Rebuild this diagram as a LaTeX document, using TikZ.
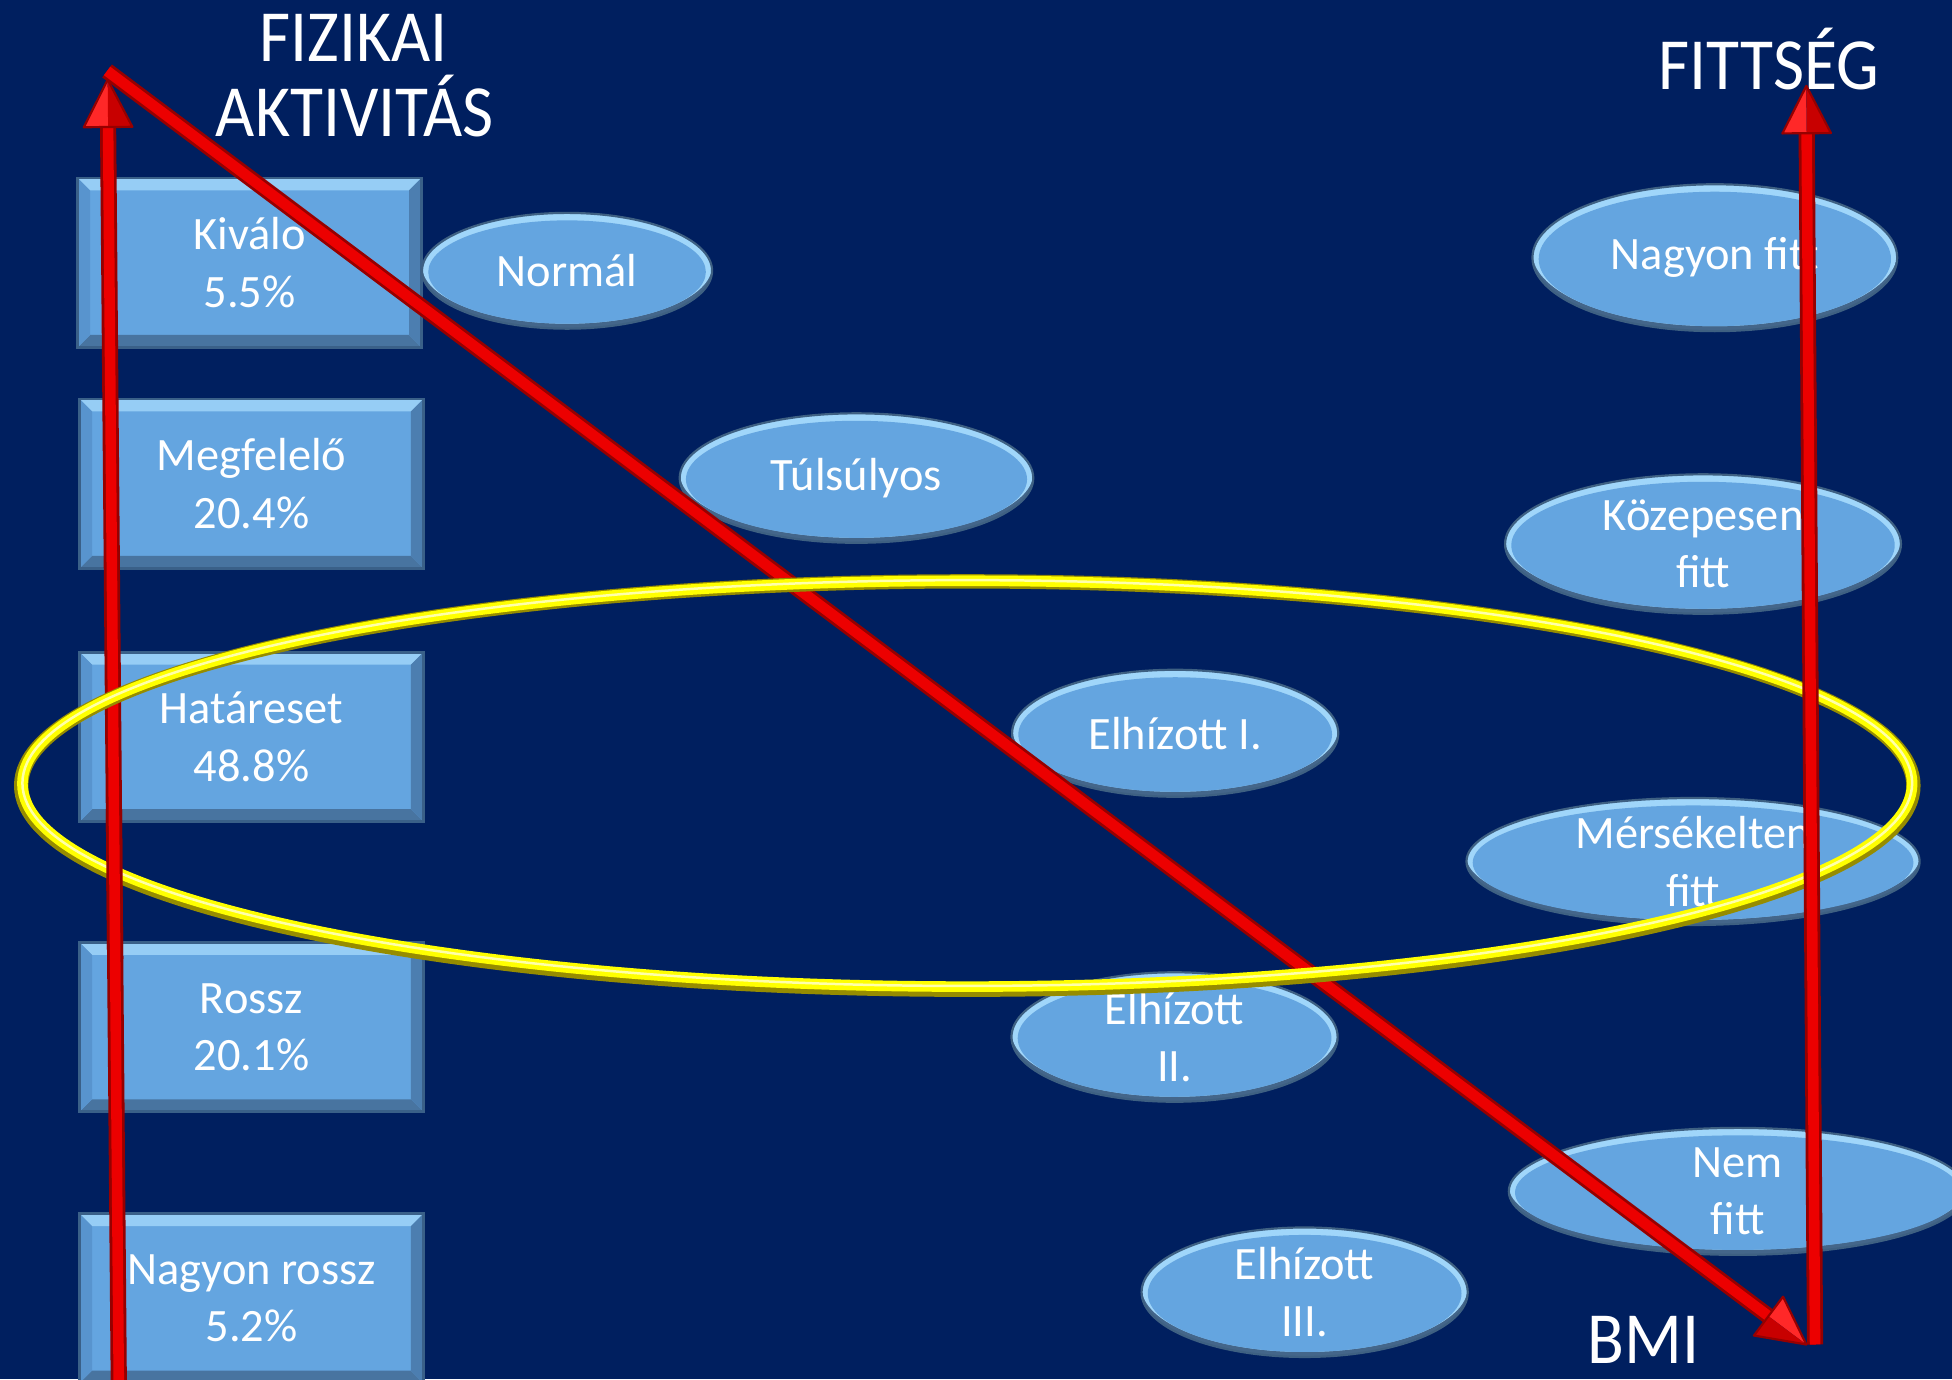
\documentclass[tikz,border=0pt]{standalone}
\usepackage{fontspec}
\setmainfont{Carlito}
\newfontfamily\ttlfont[FakeStretch=0.92]{Carlito}
\usetikzlibrary{calc}
\definecolor{bg}{RGB}{0,31,95}
\definecolor{boxmain}{RGB}{100,165,224}
\definecolor{boxtop}{RGB}{150,205,245}
\definecolor{boxbot}{RGB}{72,116,160}
\definecolor{boxleft}{RGB}{88,148,206}
\definecolor{boxright}{RGB}{76,126,176}
\definecolor{boxedge}{RGB}{58,96,136}
\definecolor{bubmain}{RGB}{100,165,224}
\definecolor{bublight}{RGB}{160,214,250}
\definecolor{bubdark}{RGB}{68,102,138}
\definecolor{bubedge}{RGB}{62,96,130}
\definecolor{ylw}{RGB}{255,255,0}
\definecolor{ylwdark}{RGB}{150,140,0}
\definecolor{ylwlight}{RGB}{255,255,170}
\definecolor{tubered}{RGB}{236,0,0}
\definecolor{tubedark}{RGB}{150,0,0}
\definecolor{headlight}{RGB}{255,40,40}
\definecolor{headdark}{RGB}{200,0,0}

\tikzset{
  boxtext/.style={text=white, align=center, inner sep=0pt, font=\fontsize{10.6}{13.1}\selectfont},
  titletext/.style={text=white, inner sep=0pt, font=\ttlfont\fontsize{16.8}{18}\selectfont},
  bevelbox/.style={boxtext, rectangle, minimum width=2.76cm, minimum height=1.36cm,
    fill=boxmain, draw=boxedge, line width=0.6pt,
    path picture={
      \fill[boxtop] (path picture bounding box.north west) -- (path picture bounding box.north east)
        -- ++(-0.1cm,-0.1cm) -- ($(path picture bounding box.north west)+(0.1cm,-0.1cm)$) -- cycle;
      \fill[boxbot] (path picture bounding box.south west) -- (path picture bounding box.south east)
        -- ++(-0.1cm,0.1cm) -- ($(path picture bounding box.south west)+(0.1cm,0.1cm)$) -- cycle;
      \fill[boxleft] (path picture bounding box.south west) -- (path picture bounding box.north west)
        -- ++(0.1cm,-0.1cm) -- ($(path picture bounding box.south west)+(0.1cm,0.1cm)$) -- cycle;
      \fill[boxright] (path picture bounding box.south east) -- (path picture bounding box.north east)
        -- ++(-0.1cm,-0.1cm) -- ($(path picture bounding box.south east)+(-0.1cm,0.1cm)$) -- cycle;
    }},
  tubeouter/.style={draw=tubedark, line width=0.13cm},
  tubeinner/.style={draw=tubered, line width=0.085cm},
  ringouter/.style={draw=ylwdark, line width=0.115cm},
  ringinner/.style={draw=ylw, line width=0.085cm},
  ringhigh/.style={draw=ylwlight, line width=0.02cm},
}

\newcommand\bubble[6]{%
  \begin{scope}
    \clip (#2,#3) ellipse [x radius=#4, y radius=#5];
    \fill[bubdark] (#2-#4,#3-#5) rectangle (#2+#4,#3+#5);
    \fill[bublight] (#2,#3-4) ellipse [x radius=#4, y radius=#5];
    \fill[bubmain] (#2,#3+1) ellipse [x radius=#4-5, y radius=#5-5];
  \end{scope}
  \draw[bubedge, line width=0.5pt] (#2,#3) ellipse [x radius=#4, y radius=#5];
  \node[boxtext] (#1) at (#2,#3) {#6};
}

\newcommand\redshaft[2]{%
  \coordinate (hb) at ($(#2)!0.36cm!(#1)$);
  \draw[tubeouter] (#1) -- (hb);
  \draw[tubeinner] (#1) -- (hb);
}
\newcommand\redhead[2]{%
  \coordinate (hb) at ($(#2)!0.38cm!(#1)$);
  \coordinate (hl) at ($(hb)!0.195cm!90:(#2)$);
  \coordinate (hr) at ($(hb)!0.195cm!-90:(#2)$);
  \fill[headlight] (#2) -- (hl) -- (hb) -- cycle;
  \fill[headdark] (#2) -- (hr) -- (hb) -- cycle;
  \draw[tubedark, line width=0.5pt, line join=round] (#2) -- (hl) -- (hr) -- cycle;
}

\begin{document}
\begin{tikzpicture}[x=0.01cm, y=-0.01cm]
\useasboundingbox (0,0) rectangle (1568,1108);
\fill[bg] (0,0) rectangle (1568,1108);
\clip (0,0) rectangle (1568,1108);

% boxes
\node[bevelbox] (kivalo) at (200.5,211) {Kiválo\\5.5\%};
\node[bevelbox] (megfelelo) at (202,388.5) {Megfelelő\\20.4\%};
\node[bevelbox] (hatareset) at (202,592) {Határeset\\48.8\%};
\node[bevelbox] (rossz) at (202,825) {Rossz\\20.1\%};
\node[bevelbox] (nagyonrossz) at (202,1043) {Nagyon rossz\\5.2\%};

% bubbles
\bubble{normal}{455.5}{217.5}{116.5}{46.5}{Normál}
\bubble{tulsulyos}{688}{384}{142}{52}{Túlsúlyos}
\bubble{elhizI}{944}{589}{131}{51}{Elhízott I.}
\bubble{elhizII}{943.5}{833}{131}{52}{Elhízott\\II.}
\bubble{elhizIII}{1048}{1038}{131}{52}{Elhízott\\III.}
\bubble{nagyonfitt}{1377.5}{207}{146.5}{59}{Nagyon fitt}
\bubble{kozepesen}{1368}{437}{159}{56}{Közepesen\\fitt}
\bubble{merseklet}{1360}{692}{182}{51}{Mérsékelten\\fitt}
\bubble{nemfitt}{1396}{957}{184}{51}{Nem\\fitt}

% titles
\node[titletext, anchor=base] (fiz1) at (284,49.5) {FIZIKAI};
\node[titletext, anchor=base] (fiz2) at (285,110) {AKTIVITÁS};
\node[titletext, anchor=base] (fitts) at (1421,71.7) {FITTSÉG};
\node[titletext, anchor=base] (bmi) at (1320,1095) {BMI};

% arrow end points
\coordinate (la0) at (95.5,1120);
\coordinate (la1) at (86.5,64);
\coordinate (da0) at (86,57);
\coordinate (da1) at (1451,1080);
\coordinate (ra0) at (1458,1080);
\coordinate (ra1) at (1451,69);

% left and diagonal arrows
\redshaft{la0}{la1}
\redhead{la0}{la1}
\redshaft{da0}{da1}
\redhead{da0}{da1}

% yellow ring
\draw[ringouter] (777,631) ellipse [x radius=760, y radius=164];
\draw[ringinner] (777,629.5) ellipse [x radius=759, y radius=163];
\draw[ringhigh] (777,629) ellipse [x radius=759, y radius=163];

% left arrow passes in front at its lower crossing
\begin{scope}
  \clip (40,650) rectangle (150,770);
  \redshaft{la0}{la1}
\end{scope}

% right arrow
\redshaft{ra0}{ra1}
\redhead{ra0}{ra1}
\end{tikzpicture}
\end{document}
